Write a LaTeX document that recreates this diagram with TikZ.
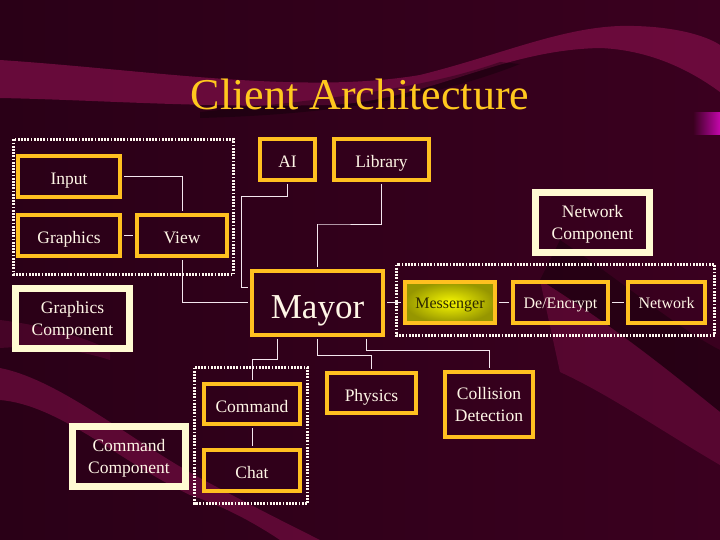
\documentclass[tikz,border=0pt]{standalone}
\usepackage{fontspec}
\setmainfont{Liberation Serif}
\usetikzlibrary{shapes,arrows,positioning,calc,fit}
\definecolor{bgdark}{HTML}{2A0017}
\definecolor{bgmid}{HTML}{600034}
\definecolor{bgright}{HTML}{3A001F}
\definecolor{band}{HTML}{7C0E46}
\definecolor{boxgold}{HTML}{FFC020}
\definecolor{cream}{HTML}{FFFAD2}
\definecolor{boxtext}{HTML}{FFF6E6}
\definecolor{titlegold}{HTML}{FFC81E}
\definecolor{wire}{HTML}{F4E6EE}
\definecolor{dots}{HTML}{FFF8F0}
\definecolor{glowin}{RGB}{248,248,0}
\definecolor{glowout}{RGB}{150,150,0}
\definecolor{glowtext}{RGB}{45,40,0}
\tikzstyle{box} = [rectangle, draw=boxgold, line width=4pt, text=boxtext, inner sep=1pt, align=center, text depth=0pt, font=\fontsize{17.5}{22}\selectfont]
\tikzstyle{unit} = [box, minimum height=41pt, text height=16pt]
\tikzstyle{component} = [box, draw=cream, line width=7pt, minimum width=114pt, minimum height=60pt]
\tikzstyle{netunit} = [unit, text height=12pt, font=\fontsize{16}{20}\selectfont]
\tikzstyle{messenger} = [netunit, inner color=glowin, outer color=glowout, text=glowtext]
\tikzstyle{group} = [draw=dots, line width=3pt, dash pattern=on 1.8pt off 1.4pt]
\tikzstyle{line} = [draw=wire, line width=1pt, shorten <=2pt, shorten >=2pt]

\begin{document}
\begin{tikzpicture}[x=1pt, y=-1pt]
	% Background
	\shade[left color=bgdark, middle color=bgmid, right color=bgright] (0,0) rectangle (720,540);
	\fill[band, opacity=0.75] (0,60) .. controls (150,70) and (300,95) .. (420,75) .. controls (500,55) and (560,28) .. (620,26) .. controls (670,25) and (705,35) .. (720,45) -- (720,92) .. controls (690,70) and (650,50) .. (600,48) .. controls (500,50) and (430,100) .. (330,105) .. controls (200,108) and (100,100) .. (0,98) -- cycle;
	\fill[black, opacity=0.3] (200,112) .. controls (320,100) and (420,90) .. (500,62) -- (520,64) .. controls (430,100) and (320,115) .. (200,118) -- cycle;
	\fill[band, opacity=0.35] (0,320) .. controls (40,325) and (80,335) .. (110,350) -- (110,360) .. controls (80,350) and (40,345) .. (0,348) -- cycle;
	\fill[band, opacity=0.6] (0,368) .. controls (60,380) and (130,440) .. (200,478) .. controls (250,505) and (290,525) .. (320,540) -- (280,540) .. controls (250,520) and (220,505) .. (190,495) .. controls (120,462) and (60,405) .. (0,400) -- cycle;
	\fill[black, opacity=0.3] (560,240) .. controls (620,280) and (680,330) .. (720,350) -- (720,412) .. controls (680,380) and (620,330) .. (540,280) -- cycle;
	\fill[band, opacity=0.45] (540,280) .. controls (620,330) and (680,380) .. (720,412) -- (720,465) .. controls (660,430) and (610,395) .. (560,372) -- cycle;
	\shade[left color=bgright, right color=magenta!55!band] (693,113) rectangle (720,135);

	% Title
	\node[text=titlegold, font=\fontsize{44}{50}\selectfont, anchor=base] (Title) at (360,110) {Client Architecture};

	% Groups
	\draw[group] (13.5,139.5) rectangle (233.5,274.5);
	\draw[group] (194.5,367.5) rectangle (307.5,503.5);
	\draw[group] (396.5,264.5) rectangle (714.5,335.5);

	% First row
	\node[unit, minimum width=102pt] (Input) at (69,176.5) {Input};
	\node[unit, minimum width=102pt, below of=Input, node distance=59pt] (Graphics) {Graphics};
	\node[unit, minimum width=90pt, right of=Graphics, node distance=113pt] (View) {View};
	\node[unit, minimum width=55pt] (AI) at (287.5,159.5) {AI};
	\node[unit, minimum width=95pt, right of=AI, node distance=94pt] (Library) {Library};
	\node[component] (NetworkComp) at (592.5,222.5) {Network\\Component};

	% Second row
	\node[unit, minimum width=131pt, minimum height=64pt, text height=31pt, font=\fontsize{35}{40}\selectfont] (Mayor) at (317.5,302.5) {Mayor};
	\node[component] (GraphicsComp) at (72.5,318.5) {Graphics\\Component};
	\node[messenger, minimum width=90pt] (Messenger) at (450,302.5) {Messenger};
	\node[netunit, minimum width=95pt, right of=Messenger, node distance=110.5pt] (Crypt) {De/Encrypt};
	\node[netunit, minimum width=77pt, right of=Crypt, node distance=106pt] (Network) {Network};

	% Third row
	\node[unit, minimum width=96pt, minimum height=40pt] (Command) at (252,404) {Command};
	\node[unit, minimum width=96pt, below of=Command, node distance=66.5pt] (Chat) {Chat};
	\node[unit, minimum width=89pt, minimum height=40pt] (Physics) at (371.5,393) {Physics};
	\node[box, minimum width=88pt, minimum height=65pt] (Collision) at (489,404.5) {Collision\\Detection};
	\node[component, minimum width=113pt] (CommandComp) at (129,456.5) {Command\\Component};

	% Paths
	\path [line] (Input) -| (View);
	\path [line] (Graphics) -- (View);
	\path [line] (View) |- (Mayor);
	\path [line] (AI) |- (241,197) |- ($(Mayor.west)+(0,-15)$);
	\path [line] (Library) |- (318,225) -| (Mayor);
	\path [line] ($(Mayor.south)+(-40.5,0)$) -- ++(0,23) -| (Command);
	\path [line] (Command) -- (Chat);
	\path [line] (Mayor.south) -- ++(0,19) -| (Physics);
	\path [line] ($(Mayor.south)+(48.5,0)$) -- ++(0,14) -| (Collision);
	\path [line] (Mayor) -- (Messenger);
	\path [line] (Messenger) -- (Crypt);
	\path [line] (Crypt) -- (Network);
\end{tikzpicture}
\end{document}
